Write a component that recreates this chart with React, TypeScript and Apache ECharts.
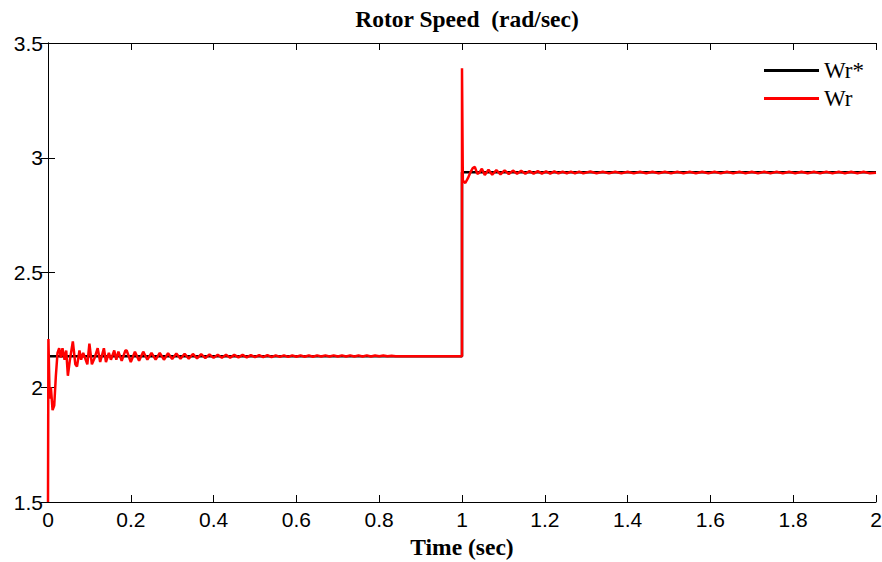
import React, { useEffect, useRef } from "react";
import * as echarts from "echarts";

const titleText = "Rotor Speed  (rad/sec)";
const xAxisName = "Time (sec)";
const seriesNames = ["Wr*", "Wr"];

// Reference speed Wr* : [time, rad/sec]
const wrRef: number[][] = [
  [0, 2.135],
  [1.0, 2.135],
  [1.0, 2.937],
  [2.0, 2.937],
];

// Actual speed Wr : start-up transient
const wrStart: number[][] = [
  [0, 1.5], [0.001, 2.21], [0.004, 1.95], [0.007, 2.0], [0.011, 1.9], [0.015, 1.92],
  [0.019, 2.05], [0.023, 2.15], [0.027, 2.17], [0.031, 2.13], [0.035, 2.17], [0.04, 2.12],
  [0.044, 2.16], [0.048, 2.05], [0.053, 2.12], [0.06, 2.2], [0.066, 2.1], [0.07, 2.09],
  [0.076, 2.16], [0.08, 2.12], [0.085, 2.15], [0.095, 2.1], [0.1, 2.19], [0.106, 2.1],
  [0.113, 2.13], [0.12, 2.17], [0.126, 2.11], [0.135, 2.17], [0.14, 2.11], [0.147, 2.15],
  [0.152, 2.12], [0.16, 2.16], [0.165, 2.12], [0.17, 2.155], [0.178, 2.115], [0.187, 2.16],
];

// Wr : decaying ripple until first steady state
const wrSettle1: number[][] = [
  [0.19, 2.16], [0.2, 2.11], [0.21, 2.155], [0.22, 2.115], [0.23, 2.155], [0.24, 2.12],
  [0.25, 2.15], [0.26, 2.12], [0.27, 2.15], [0.28, 2.12], [0.29, 2.148], [0.3, 2.123],
  [0.31, 2.147], [0.32, 2.124], [0.33, 2.146], [0.34, 2.125], [0.35, 2.145], [0.36, 2.126],
  [0.37, 2.144], [0.38, 2.127], [0.39, 2.143], [0.4, 2.128], [0.41, 2.142], [0.42, 2.129],
  [0.43, 2.142], [0.44, 2.129], [0.45, 2.141], [0.46, 2.13], [0.47, 2.141], [0.48, 2.13],
  [0.49, 2.14], [0.5, 2.131], [0.51, 2.14], [0.52, 2.131], [0.53, 2.14], [0.54, 2.131],
  [0.55, 2.139], [0.56, 2.132], [0.57, 2.139], [0.58, 2.132], [0.59, 2.139], [0.6, 2.133],
  [0.61, 2.139], [0.62, 2.133], [0.63, 2.139], [0.64, 2.133], [0.65, 2.139], [0.66, 2.134],
  [0.67, 2.139], [0.68, 2.134], [0.69, 2.139], [0.7, 2.134], [0.71, 2.139], [0.72, 2.134],
  [0.73, 2.139], [0.74, 2.134], [0.75, 2.139], [0.76, 2.134], [0.77, 2.139], [0.78, 2.134],
  [0.79, 2.138], [0.8, 2.135], [0.81, 2.138], [0.82, 2.135], [0.83, 2.137], [0.84, 2.135],
  [1.0, 2.135],
];

// Wr : step at t = 1 s
const wrStep: number[][] = [
  [1.0, 3.39], [1.002, 2.9], [1.008, 2.89], [1.014, 2.91], [1.02, 2.935], [1.026, 2.955],
  [1.031, 2.96], [1.037, 2.93], [1.042, 2.935], [1.048, 2.952], [1.055, 2.925], [1.064, 2.948],
  [1.073, 2.926], [1.083, 2.946], [1.093, 2.928], [1.103, 2.945], [1.113, 2.929], [1.123, 2.944],
  [1.133, 2.93], [1.143, 2.943], [1.153, 2.93], [1.163, 2.942], [1.173, 2.931], [1.183, 2.942],
  [1.193, 2.931], [1.203, 2.941], [1.213, 2.931], [1.223, 2.941], [1.233, 2.932], [1.243, 2.94],
  [1.253, 2.932], [1.263, 2.94], [1.273, 2.932], [1.283, 2.94], [1.293, 2.932],
];

// Wr : second steady state with small ripple
const wrSettle2: number[][] = [
  [1.31, 2.94], [1.325, 2.932], [1.34, 2.939], [1.355, 2.932], [1.37, 2.939], [1.385, 2.932],
  [1.4, 2.939], [1.415, 2.932], [1.43, 2.939], [1.445, 2.932], [1.46, 2.939], [1.475, 2.932],
  [1.49, 2.939], [1.505, 2.932], [1.52, 2.939], [1.535, 2.932], [1.55, 2.939], [1.565, 2.932],
  [1.58, 2.939], [1.595, 2.932], [1.61, 2.939], [1.625, 2.932], [1.64, 2.939], [1.655, 2.932],
  [1.67, 2.939], [1.685, 2.932], [1.7, 2.939], [1.715, 2.932], [1.73, 2.939], [1.745, 2.932],
  [1.76, 2.939], [1.775, 2.932], [1.79, 2.939], [1.805, 2.932], [1.82, 2.939], [1.835, 2.932],
  [1.85, 2.939], [1.865, 2.932], [1.88, 2.939], [1.895, 2.932], [1.91, 2.939], [1.925, 2.932],
  [1.94, 2.939], [1.955, 2.932], [1.97, 2.939], [1.985, 2.932], [2.0, 2.935],
];

const wrActual = [...wrStart, ...wrSettle1, ...wrStep, ...wrSettle2];

const sansFont = "'Liberation Sans', Arial, sans-serif";
const serifFont = "'Liberation Serif', 'Times New Roman', serif";

export default function App() {
  const ref = useRef<HTMLDivElement>(null);
  useEffect(() => {
    if (!ref.current) return;
    const chart = echarts.init(ref.current, null, { renderer: "svg" });
    const axisLine = { show: true, lineStyle: { color: "#000", width: 1 } };
    const tick = { show: true, inside: true, length: 7, lineStyle: { color: "#000", width: 1 } };
    const label = { color: "#000", fontFamily: sansFont, fontSize: 21 };
    chart.setOption({
      animation: false,
      backgroundColor: "#fff",
      title: {
        text: titleText,
        left: 462,
        top: 2,
        textAlign: "center",
        textStyle: { fontFamily: serifFont, fontWeight: "bold", fontSize: 23.5, color: "#000" },
      },
      legend: {
        orient: "vertical",
        left: 759,
        top: 54,
        icon: "rect",
        itemWidth: 55,
        itemHeight: 3,
        itemGap: 5,
        textStyle: { fontFamily: serifFont, fontSize: 23, color: "#000", padding: [0, 0, 0, 0] },
        data: seriesNames,
      },
      grid: { left: 48, right: 6, top: 43, bottom: 60, containLabel: false, outerBoundsMode: "none" },
      xAxis: [
        {
          type: "value",
          min: 0,
          max: 2,
          interval: 0.2,
          name: xAxisName,
          nameLocation: "middle",
          nameGap: 33,
          nameTextStyle: { fontFamily: serifFont, fontWeight: "bold", fontSize: 23.5, color: "#000" },
          axisLine,
          axisTick: tick,
          axisLabel: { ...label, margin: 7 },
          splitLine: { show: false },
        },
        {
          type: "value",
          position: "top",
          min: 0,
          max: 2,
          interval: 0.2,
          axisLine,
          axisTick: tick,
          axisLabel: { show: false },
          splitLine: { show: false },
        },
      ],
      yAxis: [
        {
          type: "value",
          min: 1.5,
          max: 3.5,
          interval: 0.5,
          axisLine,
          axisTick: tick,
          axisLabel: { ...label, margin: 5 },
          splitLine: { show: false },
        },
        {
          type: "value",
          position: "right",
          min: 1.5,
          max: 3.5,
          interval: 0.5,
          axisLine,
          axisTick: tick,
          axisLabel: { show: false },
          splitLine: { show: false },
        },
      ],
      series: [
        {
          name: seriesNames[0],
          type: "line",
          data: wrRef,
          symbol: "none",
          lineStyle: { color: "#000", width: 2.5 },
          itemStyle: { color: "#000" },
          z: 2,
        },
        {
          name: seriesNames[1],
          type: "line",
          data: wrActual,
          symbol: "none",
          lineStyle: { color: "#ff0000", width: 2.5 },
          itemStyle: { color: "#ff0000" },
          z: 3,
        },
      ],
    });
    return () => chart.dispose();
  }, []);
  return (
    <div
      ref={ref}
      style={{ position: "fixed", left: 0, top: 0, width: 882, height: 562, background: "#fff" }}
    />
  );
}
